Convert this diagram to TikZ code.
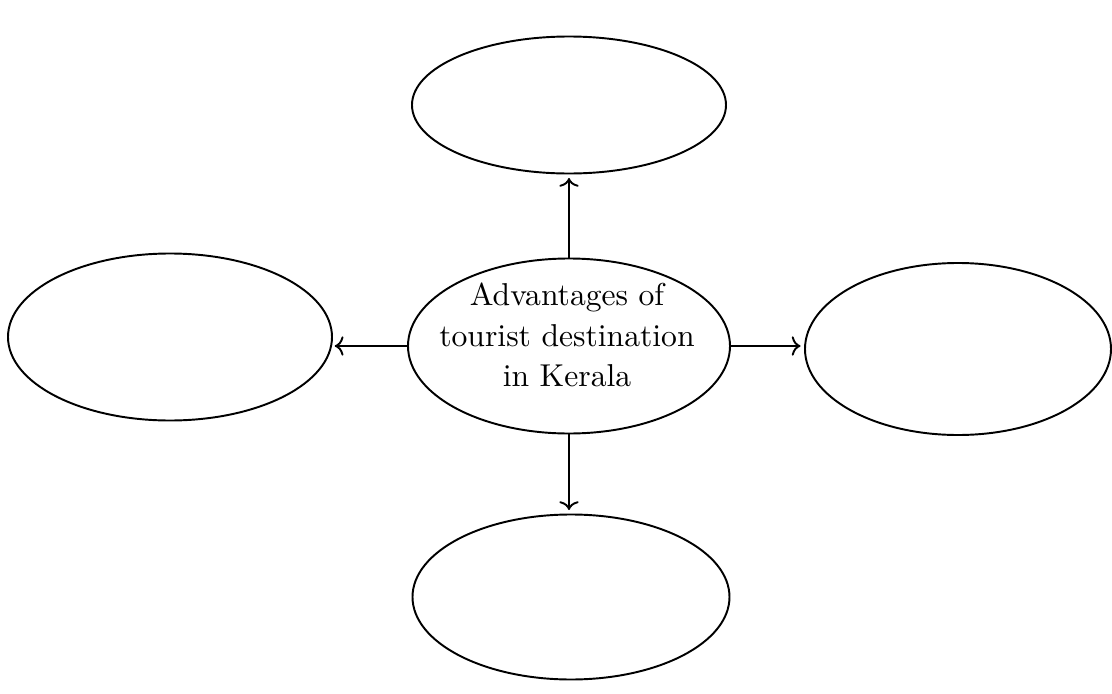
\documentclass[tikz,border=0pt]{standalone}
\usepackage{graphicx}
\usetikzlibrary{shapes.geometric,arrows.meta}
\begin{document}
\begin{tikzpicture}[auto,line width=1.1pt,>={To[length=5pt,width=11pt]},
	bubble/.style={draw,ellipse,inner sep=0pt}]
			\useasboundingbox (0,0) rectangle (22.24,-13.88);
			\node[bubble,minimum width=6.44cm,minimum height=3.50cm] (adv) at (11.38,-6.92) {};
			\node (advtext) at (11.34,-6.76) {\scalebox{1.8}{\renewcommand{\arraystretch}{1.06}\begin{tabular}{@{}c@{}}Advantages of\\tourist destination\\in Kerala\end{tabular}}};
			\node[bubble,minimum width=6.28cm,minimum height=2.74cm] (top) at (11.38,-2.10) {};
			\node[bubble,minimum width=6.48cm,minimum height=3.34cm] (left) at (3.40,-6.74) {};
			\node[bubble,minimum width=6.12cm,minimum height=3.44cm] (right) at (19.16,-6.98) {};
			\node[bubble,minimum width=6.34cm,minimum height=3.30cm] (bottom) at (11.42,-11.94) {};
			\draw[->,shorten >=2pt] (adv.north) to (adv.north|-top.south);
			\draw[->,shorten >=1pt] (adv.west) to (adv.west-|left.east);
			\draw[->,shorten >=2pt] (adv.east) to (adv.east-|right.west);
			\draw[->,shorten >=2pt] (adv.south) to (adv.south|-bottom.north);
		\end{tikzpicture}
\end{document}
